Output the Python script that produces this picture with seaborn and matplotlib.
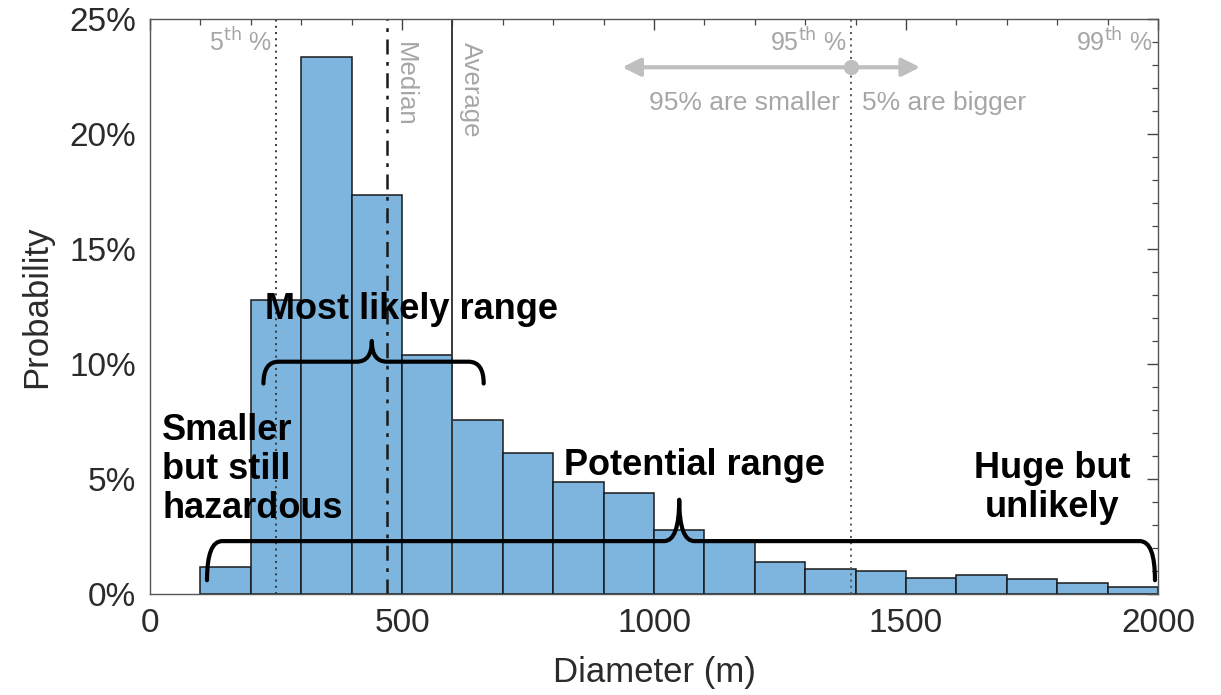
import numpy as np
import matplotlib
matplotlib.use("Agg")
import matplotlib.pyplot as plt
import seaborn as sns
from matplotlib.path import Path
from matplotlib.patches import PathPatch
from matplotlib.ticker import MultipleLocator, FuncFormatter

# histogram data (diameter bins in m, probability in %)
bin_edges = list(range(100, 2001, 100))
probability = [1.19, 12.8, 23.35, 17.35, 10.4, 7.55, 6.11, 4.89, 4.37, 2.78,
               2.27, 1.41, 1.09, 1.02, 0.71, 0.82, 0.64, 0.49, 0.32]
bin_centers = [e + 50 for e in bin_edges[:-1]]

# summary statistics
p5 = 250
median = 470
average = 600
p95 = 1390
p99 = 2000

sns.set_theme(style="white")
plt.rcParams['font.family'] = ['Liberation Sans', 'DejaVu Sans']

fig = plt.figure(figsize=(12.21, 6.95), dpi=100)
ax = fig.add_axes([0.1229, 0.1453, 0.8255, 0.8274])

sns.histplot(x=bin_centers, weights=probability, bins=bin_edges, ax=ax,
             color='#7DB5DE', alpha=1, edgecolor='#1a1a1a', linewidth=1.1)

ax.set_xlim(0, 2000)
ax.set_ylim(0, 25)

grey_txt = '#a6a6a6'
line_col = '#3a3a3a'

# reference lines
ax.axvline(p5, color=line_col, ls=(0, (1, 2.2)), lw=1.4)
ax.axvline(median, color='#1a1a1a', ls=(0, (6, 3, 1.5, 3)), lw=1.8)
ax.axvline(average, color=line_col, ls='-', lw=1.4)
ax.axvline(p95, color='#555555', ls=(0, (1, 2.2)), lw=1.4)

ax.text(p5 - 8, 24.6, r'5$^{\rm th}$ %', ha='right', va='top', color=grey_txt, fontsize=18)
ax.text(p95 - 8, 24.6, r'95$^{\rm th}$ %', ha='right', va='top', color=grey_txt, fontsize=18)
ax.text(p99 - 10, 24.6, r'99$^{\rm th}$ %', ha='right', va='top', color=grey_txt, fontsize=18)
ax.text(median + 12, 24.0, 'Median', rotation=-90, ha='left', va='top', color=grey_txt, fontsize=18.5)
ax.text(average + 12, 24.0, 'Average', rotation=-90, ha='left', va='top', color=grey_txt, fontsize=18.5)

# 95% arrow
arrow_y = 22.9
arr_col = '#bfbfbf'
for end in (937, 1528):
    ax.annotate('', xy=(end, arrow_y), xytext=(p95, arrow_y),
                arrowprops=dict(arrowstyle='-|>,head_length=0.9,head_width=0.45', color=arr_col, lw=3,
                                shrinkA=0, shrinkB=0))
ax.plot([p95], [arrow_y], 'o', color=arr_col, ms=10, zorder=5)
ax.text(p95 - 22, 21.35, '95% are smaller', ha='right', va='center', color=grey_txt, fontsize=19)
ax.text(p95 + 22, 21.35, '5% are bigger', ha='left', va='center', color=grey_txt, fontsize=19)


def brace(x0, x1, xm, y_tip, y_h, y_peak, r=30):
    verts = [(x0, y_tip), (x0, y_h), (x0 + r, y_h),
             (xm - r, y_h), (xm, y_h), (xm, y_peak),
             (xm, y_h), (xm + r, y_h),
             (x1 - r, y_h), (x1, y_h), (x1, y_tip)]
    codes = [Path.MOVETO, Path.CURVE3, Path.CURVE3,
             Path.LINETO, Path.CURVE3, Path.CURVE3,
             Path.CURVE3, Path.CURVE3,
             Path.LINETO, Path.CURVE3, Path.CURVE3]
    ax.add_patch(PathPatch(Path(verts, codes), fill=False, lw=3, ec='black',
                           capstyle='round', joinstyle='round', zorder=6))


brace(225, 662, 440, 9.15, 10.1, 11.0)
brace(113, 1994, 1050, 0.6, 2.3, 4.1)

bold = dict(fontsize=26, fontweight='bold', color='black', zorder=7)
ax.text(518, 12.35, 'Most likely range', ha='center', va='center', **bold)
ax.text(1080, 5.6, 'Potential range', ha='center', va='center', **bold)
ax.text(24, 5.4, 'Smaller\nbut still\nhazardous', ha='left', va='center', linespacing=1.15, **bold)
ax.text(1790, 4.6, 'Huge but\nunlikely', ha='center', va='center', linespacing=1.15, **bold)

# axes styling
ax.xaxis.set_major_locator(MultipleLocator(500))
ax.xaxis.set_minor_locator(MultipleLocator(100))
ax.yaxis.set_major_locator(MultipleLocator(5))
ax.yaxis.set_minor_locator(MultipleLocator(1))
ax.yaxis.set_major_formatter(FuncFormatter(lambda v, p: f'{v:.0f}%'))
ax.tick_params(which='both', direction='in', top=True, right=True, colors='#444444',
               labelsize=24, labelcolor='#2b2b2b')
ax.tick_params(which='major', length=8, width=1, pad=10)
ax.tick_params(which='minor', length=4, width=0.9)
for s in ax.spines.values():
    s.set_color('#555555')
    s.set_linewidth(1)

ax.set_xlabel('Diameter (m)', fontsize=25, color='#2b2b2b', labelpad=12)
ax.set_ylabel('Probability', fontsize=25, color='#2b2b2b', labelpad=12)

fig.savefig('out.png', dpi=100)
